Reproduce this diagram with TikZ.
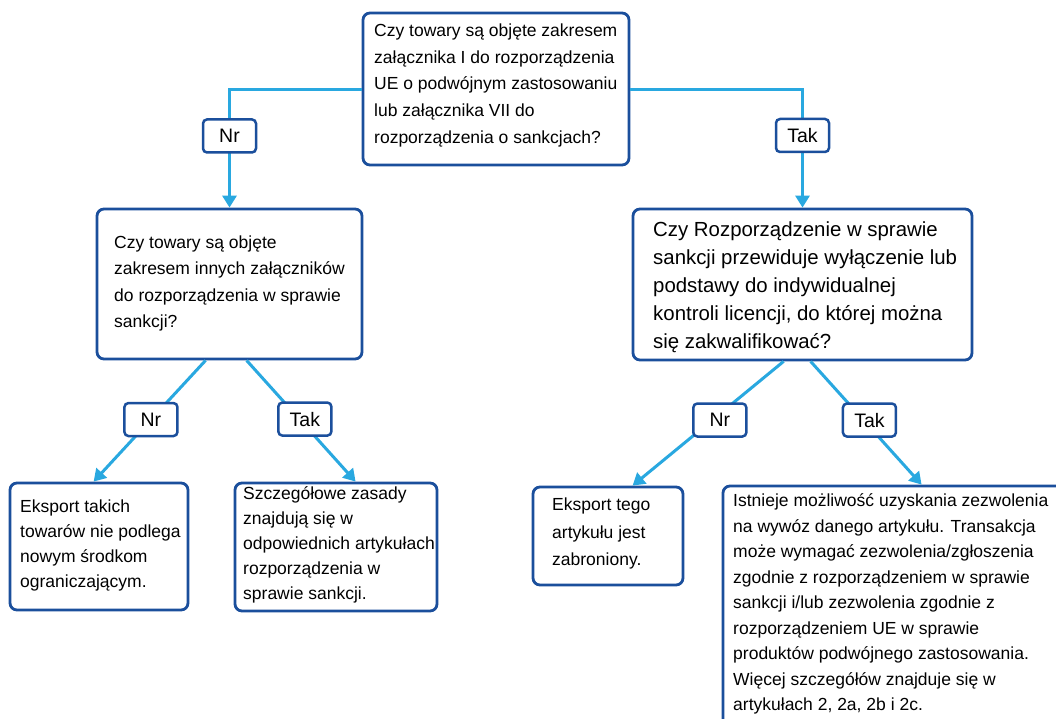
\documentclass[tikz,border=0pt]{standalone}
\usepackage{fontspec}
\setmainfont{Liberation Sans}
\usetikzlibrary{arrows.meta}
\definecolor{boxblue}{RGB}{27,79,156}
\definecolor{linkblue}{RGB}{41,168,224}
\newcommand{\myfs}[2]{\fontsize{#1}{#2}\selectfont}
\begin{document}
\begin{tikzpicture}[x=1pt,y=-1pt,
  box/.style={draw=boxblue, line width=2.8pt, rounded corners=7pt, fill=white, inner sep=0pt},
  txt/.style={anchor=west, align=left, inner sep=0pt, text=black,
    execute at begin node={\strut}, execute at end node={\strut}},
  conn/.style={draw=linkblue, line width=3pt, -{Triangle[width=14pt,length=12pt]}},
  lbl/.style={draw=boxblue, line width=2.5pt, rounded corners=4pt, fill=white,
    minimum width=53pt, minimum height=33pt, inner sep=0pt, text=black,
    font=\myfs{19.5}{23}}]

\useasboundingbox[fill=white] (0,0) rectangle (1056,718);

% boxes
\node[box, minimum width=266pt, minimum height=152pt] (top) at (496,89) {};
\node[box, minimum width=265pt, minimum height=150pt] (midL) at (229.5,284) {};
\node[box, minimum width=339pt, minimum height=151pt] (midR) at (802.5,284.5) {};
\node[box, minimum width=178pt, minimum height=127pt] (botL) at (99,546.5) {};
\node[box, minimum width=202pt, minimum height=128pt] (botM) at (336,547) {};
\node[box, minimum width=150pt, minimum height=98pt] (botR1) at (608,536) {};
\node[box, minimum width=400pt, minimum height=300pt] (botR2) at (923,636) {};

% texts
\node[txt, font=\myfs{17.5}{26.8}] (topT) at (374,87.5)
  {Czy towary są objęte zakresem\\załącznika I do rozporządzenia\\UE o podwójnym zastosowaniu\\lub załącznika VII do\\rozporządzenia o sankcjach?};
\node[txt, font=\myfs{17.5}{26.3}] (midLT) at (114,285.7)
  {Czy towary są objęte\\zakresem innych załączników\\do rozporządzenia w sprawie\\sankcji?};
\node[txt, font=\myfs{20.4}{28}] (midRT) at (653,289)
  {Czy Rozporządzenie w sprawie\\sankcji przewiduje wyłączenie lub\\podstawy do indywidualnej\\kontroli licencji, do której można\\się zakwalifikować?};
\node[txt, font=\myfs{17.5}{25}] (botLT) at (20,547)
  {Eksport takich\\towarów nie podlega\\nowym środkom\\ograniczającym.};
\node[txt, font=\myfs{17.5}{25}] (botMT) at (243,547)
  {Szczegółowe zasady\\znajdują się w\\odpowiednich artykułach\\rozporządzenia w\\sprawie sankcji.};
\node[txt, font=\myfs{17.5}{27.5}] (botR1T) at (552,536)
  {Eksport tego\\artykułu jest\\zabroniony.};
\node[txt, font=\myfs{17.5}{25.5}] (botR2T) at (733,606)
  {Istnieje możliwość uzyskania zezwolenia\\na wywóz danego artykułu. Transakcja\\może wymagać zezwolenia/zgłoszenia\\zgodnie z rozporządzeniem w sprawie\\sankcji i/lub zezwolenia zgodnie z\\rozporządzeniem UE w sprawie\\produktów podwójnego zastosowania.\\Więcej szczegółów znajduje się w\\artykułach 2, 2a, 2b i 2c.};

% connectors
\draw[conn] (top.west) -| node[lbl, pos=0.698] (l1) {Nr} (midL.north);
\draw[conn] (top.east) -| node[lbl, pos=0.696] (l2) {Tak} (midR.north);
\draw[conn] ([xshift=110pt]midL.south west) -- node[lbl, pos=0.488] (l3) {Nr} ([xshift=85pt]botL.north west);
\draw[conn] ([xshift=151pt]midL.south west) -- node[lbl, pos=0.484, xshift=5.5pt] (l4) {Tak} ([xshift=122pt]botM.north west);
\draw[conn] ([xshift=152pt]midR.south west) -- node[lbl, pos=0.472, xshift=7.5pt] (l5) {Nr} ([xshift=101pt]botR1.north west);
\draw[conn] ([xshift=179pt]midR.south west) -- node[lbl, pos=0.476, xshift=6pt] (l6) {Tak} ([xshift=200pt]botR2.north west);
\end{tikzpicture}
\end{document}
